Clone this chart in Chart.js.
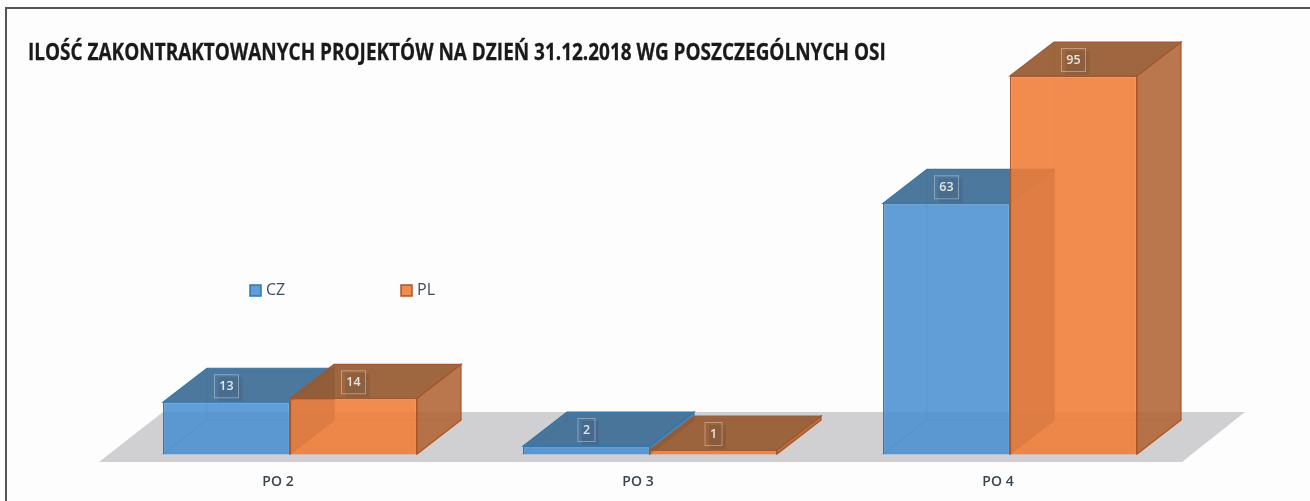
<!DOCTYPE html>
<html>
<head>
<meta charset="utf-8">
<style>
html, body { margin: 0; padding: 0; background: #fdfdfe; }
#wrap { position: relative; width: 1310px; height: 501px; overflow: hidden; }
#frame { position: absolute; left: 5px; top: 7px; width: 1305px; height: 500px; box-sizing: border-box; border-left: 2px solid #555; border-top: 2px solid #555; }
canvas { position: absolute; left: 0; top: 0; }
#title { position: absolute; left: 28px; top: 35px; white-space: nowrap; font: bold 24px "Open Sans"; line-height: 32px; color: #1a1a1a; transform-origin: left top; transform: scaleX(0.79); -webkit-text-stroke: 0.3px #1a1a1a; }
</style>
<script src="https://cdn.jsdelivr.net/npm/chart.js@4"></script>
</head>
<body>
<div id="wrap">
  <div id="frame"></div>
  <canvas id="myChart" width="1310" height="501"></canvas>
  <div id="title"></div>
</div>
<script>
const titleText = "ILOŚĆ ZAKONTRAKTOWANYCH PROJEKTÓW NA DZIEŃ 31.12.2018 WG POSZCZEGÓLNYCH OSI";
const categories = ["PO 2", "PO 3", "PO 4"];
const valuesCZ = [13, 2, 63];
const valuesPL = [14, 1, 95];

const depthX = 44;
const depthY = 34;

const faces = [
    { front: 'rgba(74,143,208,0.87)', top: 'rgba(62,108,150,0.92)', side: 'rgba(62,108,150,0.8)', line: '#2a7ab5', inner: 'rgba(40,110,170,0.3)' },
    { front: 'rgba(240,124,54,0.88)', top: 'rgba(150,90,48,0.92)', side: 'rgba(176,100,54,0.88)', line: '#a8562a', inner: 'rgba(170,90,40,0.3)' }
];

document.getElementById("title").textContent = titleText;

function poly(ctx, pts, fill, stroke) {
    ctx.beginPath();
    pts.forEach(function(p, i) {
        if (i == 0) ctx.moveTo(p[0], p[1]);
        else ctx.lineTo(p[0], p[1]);
    });
    ctx.closePath();
    if (fill) { ctx.fillStyle = fill; ctx.fill(); }
    if (stroke) { ctx.strokeStyle = stroke; ctx.lineWidth = 1.2; ctx.stroke(); }
}

function drawSides(ctx, meta, f) {
    meta.data.forEach(function(bar) {
        const l = bar.x - bar.width / 2;
        const r = bar.x + bar.width / 2;
        const t = bar.y;
        const b = bar.base;
        poly(ctx, [[l, b], [r, b], [r + depthX, b - depthY], [l + depthX, b - depthY]], null, f.inner);
        poly(ctx, [[l + depthX, t - depthY], [l + depthX, b - depthY]], null, f.inner);
        poly(ctx, [[r, t], [r + depthX, t - depthY], [r + depthX, b - depthY], [r, b]], f.side, f.line);
        poly(ctx, [[l, t], [r, t], [r + depthX, t - depthY], [l + depthX, t - depthY]], f.top, f.line);
    });
}

const box3d = {
    id: 'box3d',
    beforeDatasetsDraw(chart) {
        const ctx = chart.ctx;
        const a = chart.chartArea;
        const y0 = chart.scales.y.getPixelForValue(0);
        ctx.save();
        // floor under the bars
        poly(ctx, [[a.left - 11, y0 + 8], [a.right - 8, y0 + 8], [a.right + 55, y0 - 42], [a.left + 53, y0 - 42]], '#d0d0d2');
        // PL has to lie over CZ, chart.js would paint them the other way round
        chart.data.datasets.forEach(function(ds, i) {
            const meta = chart.getDatasetMeta(i);
            drawSides(ctx, meta, faces[i]);
            meta.controller.draw();
        });
        ctx.restore();
    },
    beforeDatasetDraw() {
        return false;
    },
    afterDatasetsDraw(chart) {
        const ctx = chart.ctx;
        ctx.save();
        ctx.font = '600 12.5px "Open Sans"';
        ctx.textAlign = 'center';
        ctx.textBaseline = 'middle';
        chart.data.datasets.forEach(function(ds, i) {
            chart.getDatasetMeta(i).data.forEach(function(bar, j) {
                const text = String(ds.data[j]);
                const w = text.length > 1 ? 24 : 17;
                const cx = bar.x;
                const cy = bar.y - 16;
                ctx.fillStyle = 'rgba(40,40,40,0.14)';
                ctx.fillRect(cx - w / 2 + 4, cy - 9, w, 24);
                ctx.strokeStyle = 'rgba(255,255,255,0.35)';
                ctx.lineWidth = 1;
                ctx.strokeRect(cx - w / 2, cy - 11.5, w, 23);
                ctx.fillStyle = '#e6e6e6';
                ctx.fillText(text, cx, cy);
            });
        });
        // legend, two entries far apart in the plot
        const a = chart.chartArea;
        const lx = [a.left + 140, a.left + 291];
        const ly = 290;
        ctx.font = '16px "Open Sans"';
        ctx.textAlign = 'left';
        chart.data.datasets.forEach(function(ds, i) {
            ctx.fillStyle = faces[i].front;
            ctx.strokeStyle = faces[i].line;
            ctx.lineWidth = 1.5;
            ctx.fillRect(lx[i], ly - 5, 11, 11);
            ctx.strokeRect(lx[i], ly - 5, 11, 11);
            ctx.fillStyle = '#3c4f5e';
            ctx.fillText(ds.label, lx[i] + 16, ly);
        });
        ctx.restore();
    }
};

let chart1 = new Chart(document.getElementById("myChart").getContext('2d'), {
    type: 'bar',
    data: {
        labels: categories,
        datasets: [
            { label: 'CZ', data: valuesCZ, backgroundColor: faces[0].front, borderColor: faces[0].line, borderWidth: 1.2 },
            { label: 'PL', data: valuesPL, backgroundColor: faces[1].front, borderColor: faces[1].line, borderWidth: 1.2 }
        ]
    },
    plugins: [box3d],
    options: {
        responsive: false,
        animation: false,
        categoryPercentage: 0.7056,
        barPercentage: 1,
        layout: { padding: { left: 28, right: 120, top: 76, bottom: 0 } },
        plugins: {
            legend: { display: false },
            tooltip: { enabled: false },
            title: { display: false }
        },
        scales: {
            x: {
                afterFit: function(scale) { scale.height = 47; },
                grid: { display: false, drawTicks: false },
                border: { display: false },
                ticks: { color: '#37474f', font: { family: '"Open Sans"', size: 14, weight: '600' }, padding: 20, labelOffset: -12 }
            },
            y: {
                min: 0,
                max: 95,
                afterFit: function(scale) { scale.width = 82; },
                grid: { display: false, drawTicks: false },
                border: { display: false },
                ticks: { display: false }
            }
        }
    }
});
</script>
</body>
</html>
